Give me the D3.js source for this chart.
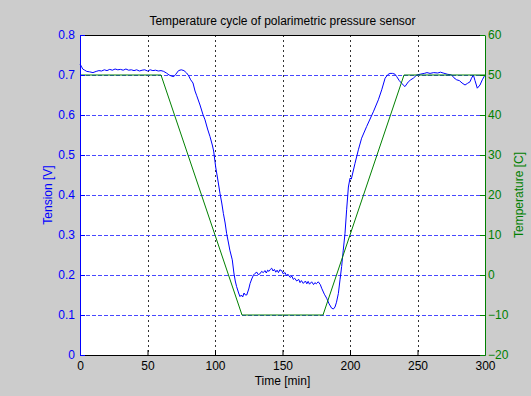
<!DOCTYPE html>
<html>
<head>
<meta charset="utf-8">
<script src="https://cdn.jsdelivr.net/npm/d3@7"></script>
<style>
  body { margin: 0; background: #cccccc; }
  text { font-family: "Liberation Sans", Arial, sans-serif; }
</style>
</head>
<body>
<div id="chart"></div>
<script>
// time axis [min] for the tension trace
const timeMin = [0, 1, 2, 3.5, 5, 7, 9.6, 12, 14, 16, 18, 20, 22, 24, 26, 28, 30, 32, 34, 36, 38, 40,
  42, 44, 46, 48, 50, 52, 54, 56, 58, 60, 62, 64, 66, 68, 69.5, 71, 73, 75, 77, 79, 80.5, 82, 83.7,
  85.2, 86.5, 88.9, 91, 92.6, 94.5, 96.3, 98, 99, 100.5, 102, 103.7, 105, 106.2, 107.5, 108.6, 110,
  111, 112.8, 114, 115, 116, 117.5, 118.5, 119.5, 120.5, 121.5, 122.5, 123.5, 125, 126, 127.2, 128.5,
  129.6, 131, 132, 133.3, 134.5, 135.8, 137, 138, 139, 140, 141, 142, 143, 144, 145, 146, 147, 148,
  149.4, 150.5, 151.9, 153, 154, 155.6, 157, 158, 159, 160.5, 162, 163, 164, 165.4, 167, 168, 169,
  170, 171.6, 173, 174, 175, 176.5, 178, 179, 181, 182.7, 184.5, 186.4, 187.7, 188.9, 190, 191.4,
  192.6, 193.8, 195, 196.3, 197.5, 198.8, 200, 201, 201.7, 203.7, 206.2, 208.6, 212.3, 217.3, 221,
  223.5, 226, 228, 229.6, 231.5, 233.3, 234.6, 236.5, 238.3, 240.7, 243.2, 245, 246.9, 249.4, 252,
  255, 257, 259.3, 262, 265, 267, 269, 272, 275.3, 277, 279, 281, 283, 285.2, 287, 288.9, 290, 291.4,
  292.6, 294.3, 296.3, 298, 300];

// tension [V]
const tension = [0.727, 0.722, 0.715, 0.712, 0.709, 0.708, 0.706, 0.709, 0.711, 0.710, 0.713, 0.711,
  0.714, 0.712, 0.715, 0.713, 0.714, 0.712, 0.715, 0.712, 0.713, 0.711, 0.713, 0.710, 0.712, 0.713,
  0.710, 0.713, 0.711, 0.712, 0.710, 0.711, 0.709, 0.705, 0.700, 0.697, 0.696, 0.702, 0.711, 0.713,
  0.711, 0.705, 0.698, 0.688, 0.680, 0.660, 0.648, 0.625, 0.602, 0.588, 0.565, 0.546, 0.525, 0.510,
  0.470, 0.440, 0.404, 0.380, 0.354, 0.330, 0.304, 0.280, 0.262, 0.238, 0.205, 0.185, 0.171, 0.155,
  0.146, 0.150, 0.145, 0.155, 0.150, 0.150, 0.165, 0.179, 0.190, 0.200, 0.204, 0.207, 0.201, 0.203,
  0.209, 0.206, 0.211, 0.205, 0.212, 0.209, 0.214, 0.217, 0.210, 0.214, 0.207, 0.212, 0.206, 0.213,
  0.211, 0.203, 0.206, 0.198, 0.202, 0.194, 0.197, 0.189, 0.192, 0.185, 0.189, 0.181, 0.186, 0.179,
  0.185, 0.178, 0.184, 0.177, 0.183, 0.176, 0.181, 0.178, 0.183, 0.176, 0.167, 0.152, 0.142, 0.128,
  0.117, 0.115, 0.120, 0.132, 0.154, 0.188, 0.221, 0.262, 0.304, 0.363, 0.420, 0.442, 0.440, 0.450,
  0.479, 0.513, 0.542, 0.571, 0.608, 0.638, 0.663, 0.692, 0.701, 0.704, 0.704, 0.702, 0.696, 0.686,
  0.679, 0.671, 0.683, 0.688, 0.692, 0.700, 0.702, 0.704, 0.706, 0.704, 0.706, 0.705, 0.707, 0.705,
  0.702, 0.700, 0.693, 0.688, 0.686, 0.680, 0.675, 0.679, 0.683, 0.692, 0.700, 0.686, 0.667, 0.675,
  0.688, 0.700];

// temperature program [C]
const tempTime = [0, 60, 120, 180, 240, 300];
const temperature = [50, 50, -10, -10, 50, 50];

// tick labels
const xTicks = [0, 50, 100, 150, 200, 250, 300];
const tensionTicks = [0, 0.1, 0.2, 0.3, 0.4, 0.5, 0.6, 0.7, 0.8];
const tempTicks = [-20, -10, 0, 10, 20, 30, 40, 50, 60];

const blue = "#0000ff", green = "#008000";
const fontSize = 12;

let margin = { top: 35, right: 46, bottom: 41, left: 80 },
  width = 531 - margin.left - margin.right,
  height = 396 - margin.top - margin.bottom;

let svg = d3.select("#chart").append("svg")
  .attr("width", 531)
  .attr("height", 396)
  .append("g")
  .attr("transform", "translate(" + margin.left + "," + margin.top + ")");

let x = d3.scaleLinear().domain([0, 300]).range([0, width]);
let yL = d3.scaleLinear().domain([0, 0.8]).range([height, 0]);
let yR = d3.scaleLinear().domain([-20, 60]).range([height, 0]);

// plot background
svg.append("rect")
  .attr("width", width)
  .attr("height", height)
  .attr("fill", "#ffffff");

// vertical grid (black dotted)
svg.selectAll(".vgrid")
  .data(xTicks.filter(d => d > 0 && d < 300))
  .enter().append("line")
  .attr("class", "vgrid")
  .attr("x1", d => Math.round(x(d)) + 0.5)
  .attr("x2", d => Math.round(x(d)) + 0.5)
  .attr("y1", 0)
  .attr("y2", height)
  .attr("stroke", "#333333")
  .attr("stroke-dasharray", "2,3");

// horizontal grid (blue dashed)
svg.selectAll(".hgrid")
  .data(tensionTicks.filter(d => d > 0 && d < 0.8))
  .enter().append("line")
  .attr("class", "hgrid")
  .attr("x1", 0)
  .attr("x2", width)
  .attr("y1", d => Math.round(yL(d)) + 0.5)
  .attr("y2", d => Math.round(yL(d)) + 0.5)
  .attr("stroke", "#4848ff")
  .attr("stroke-dasharray", "4,2");

// tension line
svg.append("path")
  .datum(timeMin.map((t, i) => [t, tension[i]]))
  .attr("fill", "none")
  .attr("stroke", blue)
  .attr("stroke-width", 1)
  .attr("d", d3.line().x(d => x(d[0])).y(d => yL(d[1])));

// temperature line
svg.append("path")
  .datum(tempTime.map((t, i) => [t, temperature[i]]))
  .attr("fill", "none")
  .attr("stroke", green)
  .attr("stroke-width", 1)
  .attr("d", d3.line().x(d => x(d[0])).y(d => yR(d[1])));

// top border
svg.append("line")
  .attr("x1", 0).attr("x2", width)
  .attr("y1", 0.5).attr("y2", 0.5)
  .attr("stroke", "#000");

// x axis
let xAxis = svg.append("g")
  .attr("transform", "translate(0," + height + ")")
  .call(d3.axisBottom(x).tickValues(xTicks).tickSize(-5).tickPadding(6).tickSizeOuter(0));
xAxis.select(".domain").attr("stroke", "#000");
xAxis.selectAll("text").attr("fill", "#000").attr("font-size", fontSize);

// left axis
let lAxis = svg.append("g")
  .call(d3.axisLeft(yL).tickValues(tensionTicks).tickFormat(d3.format("")).tickSize(-5).tickPadding(5).tickSizeOuter(0));
lAxis.selectAll("line, path").attr("stroke", blue);
lAxis.selectAll("text").attr("fill", blue).attr("font-size", fontSize);

// right axis
let rAxis = svg.append("g")
  .attr("transform", "translate(" + width + ",0)")
  .call(d3.axisRight(yR).tickValues(tempTicks).tickSize(-5).tickPadding(3).tickSizeOuter(0));
rAxis.selectAll("line, path").attr("stroke", green);
rAxis.selectAll("text").attr("fill", green).attr("font-size", fontSize);

// title and labels
svg.append("text")
  .attr("x", width / 2)
  .attr("y", -10)
  .attr("text-anchor", "middle")
  .attr("font-size", fontSize)
  .attr("fill", "#000")
  .text("Temperature cycle of polarimetric pressure sensor");

svg.append("text")
  .attr("x", width / 2)
  .attr("y", height + 30)
  .attr("text-anchor", "middle")
  .attr("font-size", fontSize)
  .attr("fill", "#000")
  .text("Time [min]");

svg.append("text")
  .attr("transform", "translate(-28," + height / 2 + ") rotate(-90)")
  .attr("text-anchor", "middle")
  .attr("font-size", fontSize)
  .attr("fill", blue)
  .text("Tension [V]");

svg.append("text")
  .attr("transform", "translate(" + (width + 38) + "," + height / 2 + ") rotate(-90)")
  .attr("text-anchor", "middle")
  .attr("font-size", fontSize)
  .attr("fill", green)
  .text("Temperature [C]");
</script>
</body>
</html>
